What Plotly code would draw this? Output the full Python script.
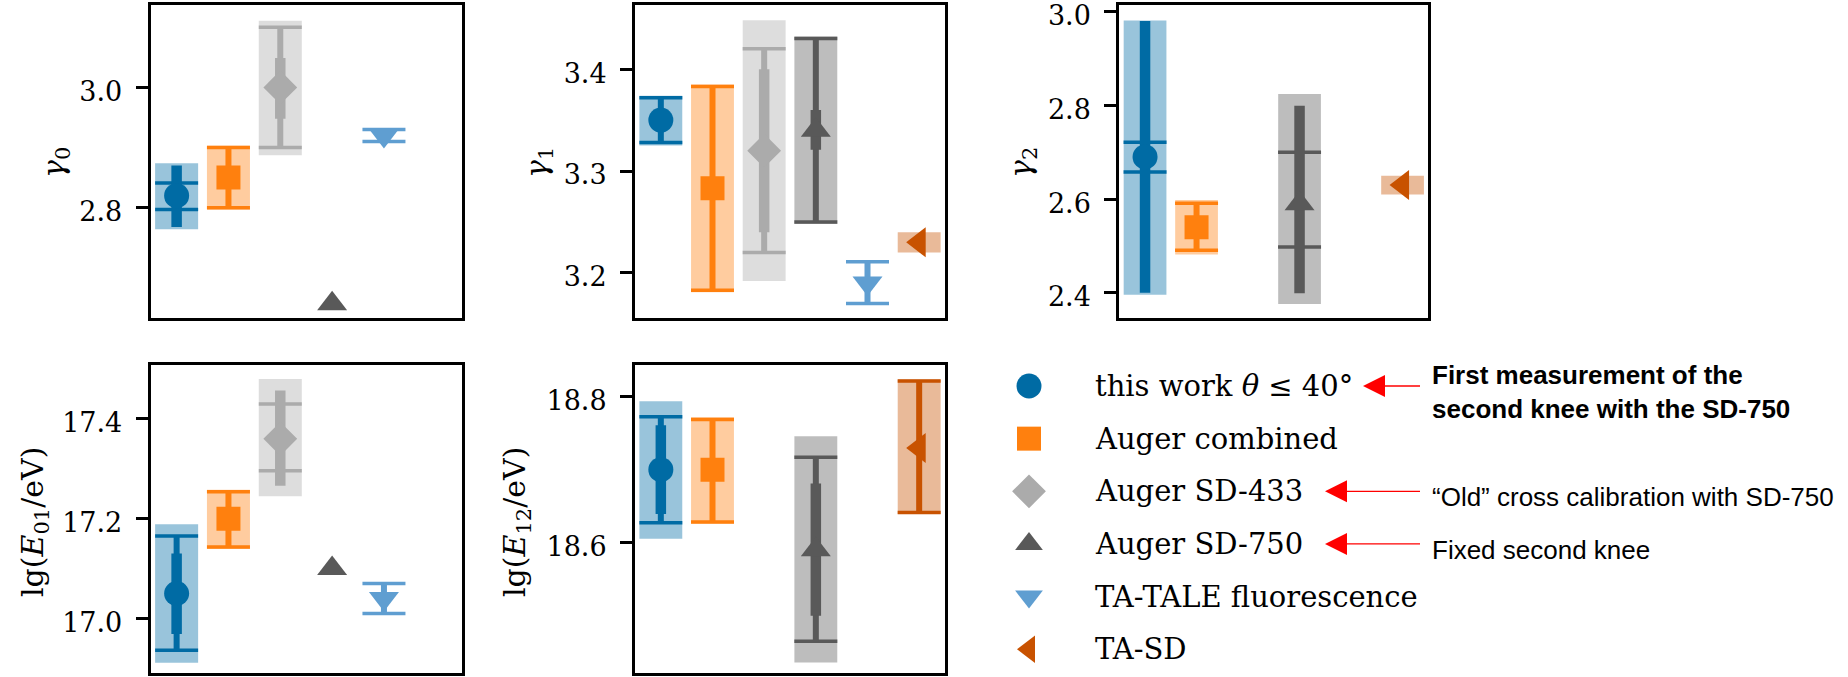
import plotly.graph_objects as go

W, H = 1848, 677

# ---------------- data ----------------
parameters = ["gamma0", "gamma1", "gamma2", "lgE01", "lgE12"]
axis_titles = ["<i>γ</i><sub>0</sub>", "<i>γ</i><sub>1</sub>", "<i>γ</i><sub>2</sub>",
               "lg(<i>E</i><sub>01</sub>/eV)", "lg(<i>E</i><sub>12</sub>/eV)"]
y_ranges = [[2.617, 3.137], [3.156, 3.463], [2.347, 3.014], [16.890, 17.508], [18.420, 18.844]]
tick_values = [[2.8, 3.0], [3.2, 3.3, 3.4], [2.4, 2.6, 2.8, 3.0], [17.0, 17.2, 17.4], [18.6, 18.8]]

experiments = ["this work <i>θ</i> ≤ 40°", "Auger combined", "Auger SD-433",
               "Auger SD-750", "TA-TALE fluorescence", "TA-SD"]
colors = ["#006BA4", "#FF800E", "#ABABAB", "#595959", "#5F9ED1", "#C85200"]
band_colors = ["rgba(0,107,164,0.4)", "rgba(255,128,14,0.4)", "rgba(171,171,171,0.4)",
               "rgba(89,89,89,0.4)", "rgba(95,158,209,0.4)", "rgba(200,82,0,0.4)"]
symbols = ["circle", "square", "diamond", "triangle-up", "triangle-down", "triangle-left"]
marker_sizes = [25, 24, 26, 26, 26, 26]

# values per parameter (gamma0, gamma1, gamma2, lgE01, lgE12); None = not available
this_work_value = [2.82, 3.35, 2.69, 17.05, 18.70]
this_work_inner = [[2.768, 2.870], None, [2.400, 2.980], [16.969, 17.130], [18.639, 18.761]]
this_work_capped = [[2.797, 2.841], [3.328, 3.372], [2.658, 2.721], [16.936, 17.165], [18.627, 18.773]]
this_work_band = [[2.764, 2.874], [3.325, 3.374], [2.396, 2.981], [16.911, 17.189], [18.605, 18.794]]

combined_value = [2.85, 3.283, 2.54, 17.20, 18.70]
combined_inner = [None, None, None, None, None]
combined_capped = [[2.800, 2.900], [3.183, 3.383], [2.491, 2.591], [17.143, 17.254], [18.628, 18.769]]
combined_band = [[2.797, 2.903], [3.181, 3.385], [2.482, 2.598], [17.139, 17.258], [18.626, 18.772]]

sd433_value = [3.00, 3.32, None, 17.36, None]
sd433_inner = [[2.948, 3.049], [3.240, 3.400], None, [17.266, 17.457], None]
sd433_capped = [[2.900, 3.100], [3.220, 3.420], None, [17.296, 17.430], None]
sd433_band = [[2.887, 3.111], [3.192, 3.448], None, [17.245, 17.480], None]

sd750_value = [2.64, 3.34, 2.59, 17.10, 18.59]
sd750_inner = [None, [3.321, 3.360], [2.399, 2.799], None, [18.499, 18.681]]
sd750_capped = [None, [3.250, 3.430], [2.498, 2.700], None, [18.464, 18.717]]
sd750_band = [None, [3.248, 3.432], [2.376, 2.824], None, [18.435, 18.746]]

tale_value = [2.92, 3.19, None, 17.04, None]
tale_inner = [None, None, None, None, None]
tale_capped = [[2.910, 2.930], [3.170, 3.211], None, [17.010, 17.070], None]
tale_band = [None, None, None, None, None]

tasd_value = [None, 3.23, 2.63, None, 18.73]
tasd_inner = [None, None, None, None, None]
tasd_capped = [None, None, None, None, [18.641, 18.822]]
tasd_band = [None, [3.220, 3.240], [2.610, 2.650], None, [18.639, 18.824]]

all_values = [this_work_value, combined_value, sd433_value, sd750_value, tale_value, tasd_value]
all_inner = [this_work_inner, combined_inner, sd433_inner, sd750_inner, tale_inner, tasd_inner]
all_capped = [this_work_capped, combined_capped, sd433_capped, sd750_capped, tale_capped, tasd_capped]
all_band = [this_work_band, combined_band, sd433_band, sd750_band, tale_band, tasd_band]

notes = ["<b>First measurement of the<br>second knee with the SD-750</b>",
         "“Old” cross calibration with SD-750",
         "Fixed second knee"]
note_rows = [0, 2, 3]

# ---------------- layout geometry (pixels) ----------------
panel_px = [  # x0, x1, ytop, ybottom
    (150.7, 461.7, 5, 317.7),
    (635, 945, 5, 317.7),
    (1119.3, 1428.3, 5, 317.7),
    (150.7, 461.7, 365, 673.3),
    (635, 945, 365, 673.3),
]
title_px = [(55, 163), (538, 163), (1022, 163), (34, 522), (516, 522)]

SERIF = "DejaVu Serif"
SANS = "Liberation Sans"

fig = go.Figure()

for p in range(5):
    xa = "x" if p == 0 else f"x{p+1}"
    ya = "y" if p == 0 else f"y{p+1}"
    for e in range(6):
        val = all_values[e][p]
        if val is None:
            continue
        band = all_band[e][p]
        if band is not None:
            fig.add_trace(go.Bar(x=[e], y=[band[1] - band[0]], base=[band[0]], width=[0.83],
                                 marker=dict(color=band_colors[e], line=dict(width=0)),
                                 xaxis=xa, yaxis=ya, showlegend=False, hoverinfo="skip"))
        capped = all_capped[e][p]
        if capped is not None:
            for thick, capw in [(3.5, 21.5), (6, 0)]:
                fig.add_trace(go.Scatter(
                    x=[e], y=[val], mode="markers",
                    marker=dict(size=1, color="rgba(0,0,0,0)"),
                    error_y=dict(type="data", symmetric=False, array=[capped[1] - val],
                                 arrayminus=[val - capped[0]], thickness=thick, width=capw,
                                 color=colors[e]),
                    xaxis=xa, yaxis=ya, showlegend=False, hoverinfo="skip"))
        inner = all_inner[e][p]
        if inner is not None:
            fig.add_trace(go.Scatter(
                x=[e], y=[val], mode="markers",
                marker=dict(size=1, color="rgba(0,0,0,0)"),
                error_y=dict(type="data", symmetric=False, array=[inner[1] - val],
                             arrayminus=[val - inner[0]], thickness=10.5, width=0,
                             color=colors[e]),
                xaxis=xa, yaxis=ya, showlegend=False, hoverinfo="skip"))
        fig.add_trace(go.Scatter(
            x=[e], y=[val], mode="markers",
            marker=dict(symbol=symbols[e], size=marker_sizes[e], color=colors[e], line=dict(width=0)),
            xaxis=xa, yaxis=ya, showlegend=False, hoverinfo="skip"))

# custom legend on a pixel overlay axis
legend_x = 1029
legend_y0 = 386
legend_dy = 52.65
legend_rows = [legend_y0 + legend_dy * i for i in range(6)]
for e in range(6):
    fig.add_trace(go.Scatter(
        x=[legend_x], y=[legend_rows[e]], mode="markers",
        marker=dict(symbol=symbols[e], size=marker_sizes[e] - (0 if e < 3 else 2),
                    color=colors[e], line=dict(width=0)),
        xaxis="x6", yaxis="y6", showlegend=False, hoverinfo="skip"))

annotations = []
for e in range(6):
    annotations.append(dict(x=1093, y=legend_rows[e], xref="x6", yref="y6", text=experiments[e],
                            showarrow=False, xanchor="left", yanchor="middle",
                            font=dict(family=SERIF, size=29, color="black")))

# red arrows pointing to legend entries
arrow_tips = [1363, 1325, 1325]
arrow_tail = 1420
note_offsets = [6, 5.5, 6.5]
for k in range(3):
    ry = legend_rows[note_rows[k]]
    fig.add_trace(go.Scatter(x=[arrow_tail, arrow_tips[k] + 12], y=[ry, ry], mode="lines",
                             line=dict(color="#FF0000", width=1.3),
                             xaxis="x6", yaxis="y6", showlegend=False, hoverinfo="skip"))
    fig.add_trace(go.Scatter(x=[arrow_tips[k]], y=[ry], mode="markers",
                             marker=dict(symbol="arrow-left", size=22, color="#FF0000",
                                         line=dict(width=0)),
                             xaxis="x6", yaxis="y6", showlegend=False, hoverinfo="skip"))
    annotations.append(dict(x=1430, y=ry + note_offsets[k], xref="x6", yref="y6", text=notes[k],
                            showarrow=False, xanchor="left", yanchor="middle", align="left",
                            font=dict(family=SANS, size=26, color="black")))

for p in range(5):
    tx, ty = title_px[p]
    annotations.append(dict(x=tx, y=ty, xref="x6", yref="y6", text=axis_titles[p],
                            showarrow=False, textangle=-90, xanchor="center", yanchor="middle",
                            font=dict(family=SERIF, size=30, color="black")))

layout = dict(
    width=W, height=H, margin=dict(l=0, r=0, t=0, b=0, autoexpand=False),
    paper_bgcolor="white", plot_bgcolor="rgba(0,0,0,0)",
    barmode="overlay", showlegend=False, annotations=annotations,
    font=dict(family=SERIF, color="black"),
)

for p in range(5):
    x0, x1, yt, yb = panel_px[p]
    xk = "xaxis" if p == 0 else f"xaxis{p+1}"
    yk = "yaxis" if p == 0 else f"yaxis{p+1}"
    ya_anchor = "y" if p == 0 else f"y{p+1}"
    xa_anchor = "x" if p == 0 else f"x{p+1}"
    layout[xk] = dict(domain=[x0 / W, x1 / W], anchor=ya_anchor, range=[-0.5, 5.5],
                      showline=True, mirror=True, linewidth=3, linecolor="black",
                      showgrid=False, zeroline=False, showticklabels=False, ticks="",
                      automargin=False, fixedrange=True)
    layout[yk] = dict(domain=[1 - yb / H, 1 - yt / H], anchor=xa_anchor, range=y_ranges[p],
                      showline=True, mirror=True, linewidth=3, linecolor="black",
                      showgrid=False, zeroline=False, ticks="outside", ticklen=12, tickwidth=3,
                      tickcolor="black", tickvals=tick_values[p], tickformat=".1f",
                      tickfont=dict(family=SERIF, size=27, color="black"),
                      ticklabelstandoff=8, ticklabelshift=4, ticklabeloverflow="allow",
                      automargin=False, fixedrange=True)

layout["xaxis6"] = dict(domain=[0, 1], range=[0, W], visible=False, anchor="y6",
                        automargin=False, fixedrange=True)
layout["yaxis6"] = dict(domain=[0, 1], range=[H, 0], visible=False, anchor="x6",
                        automargin=False, fixedrange=True)

fig.update_layout(**layout)
fig.write_html("out.html")
